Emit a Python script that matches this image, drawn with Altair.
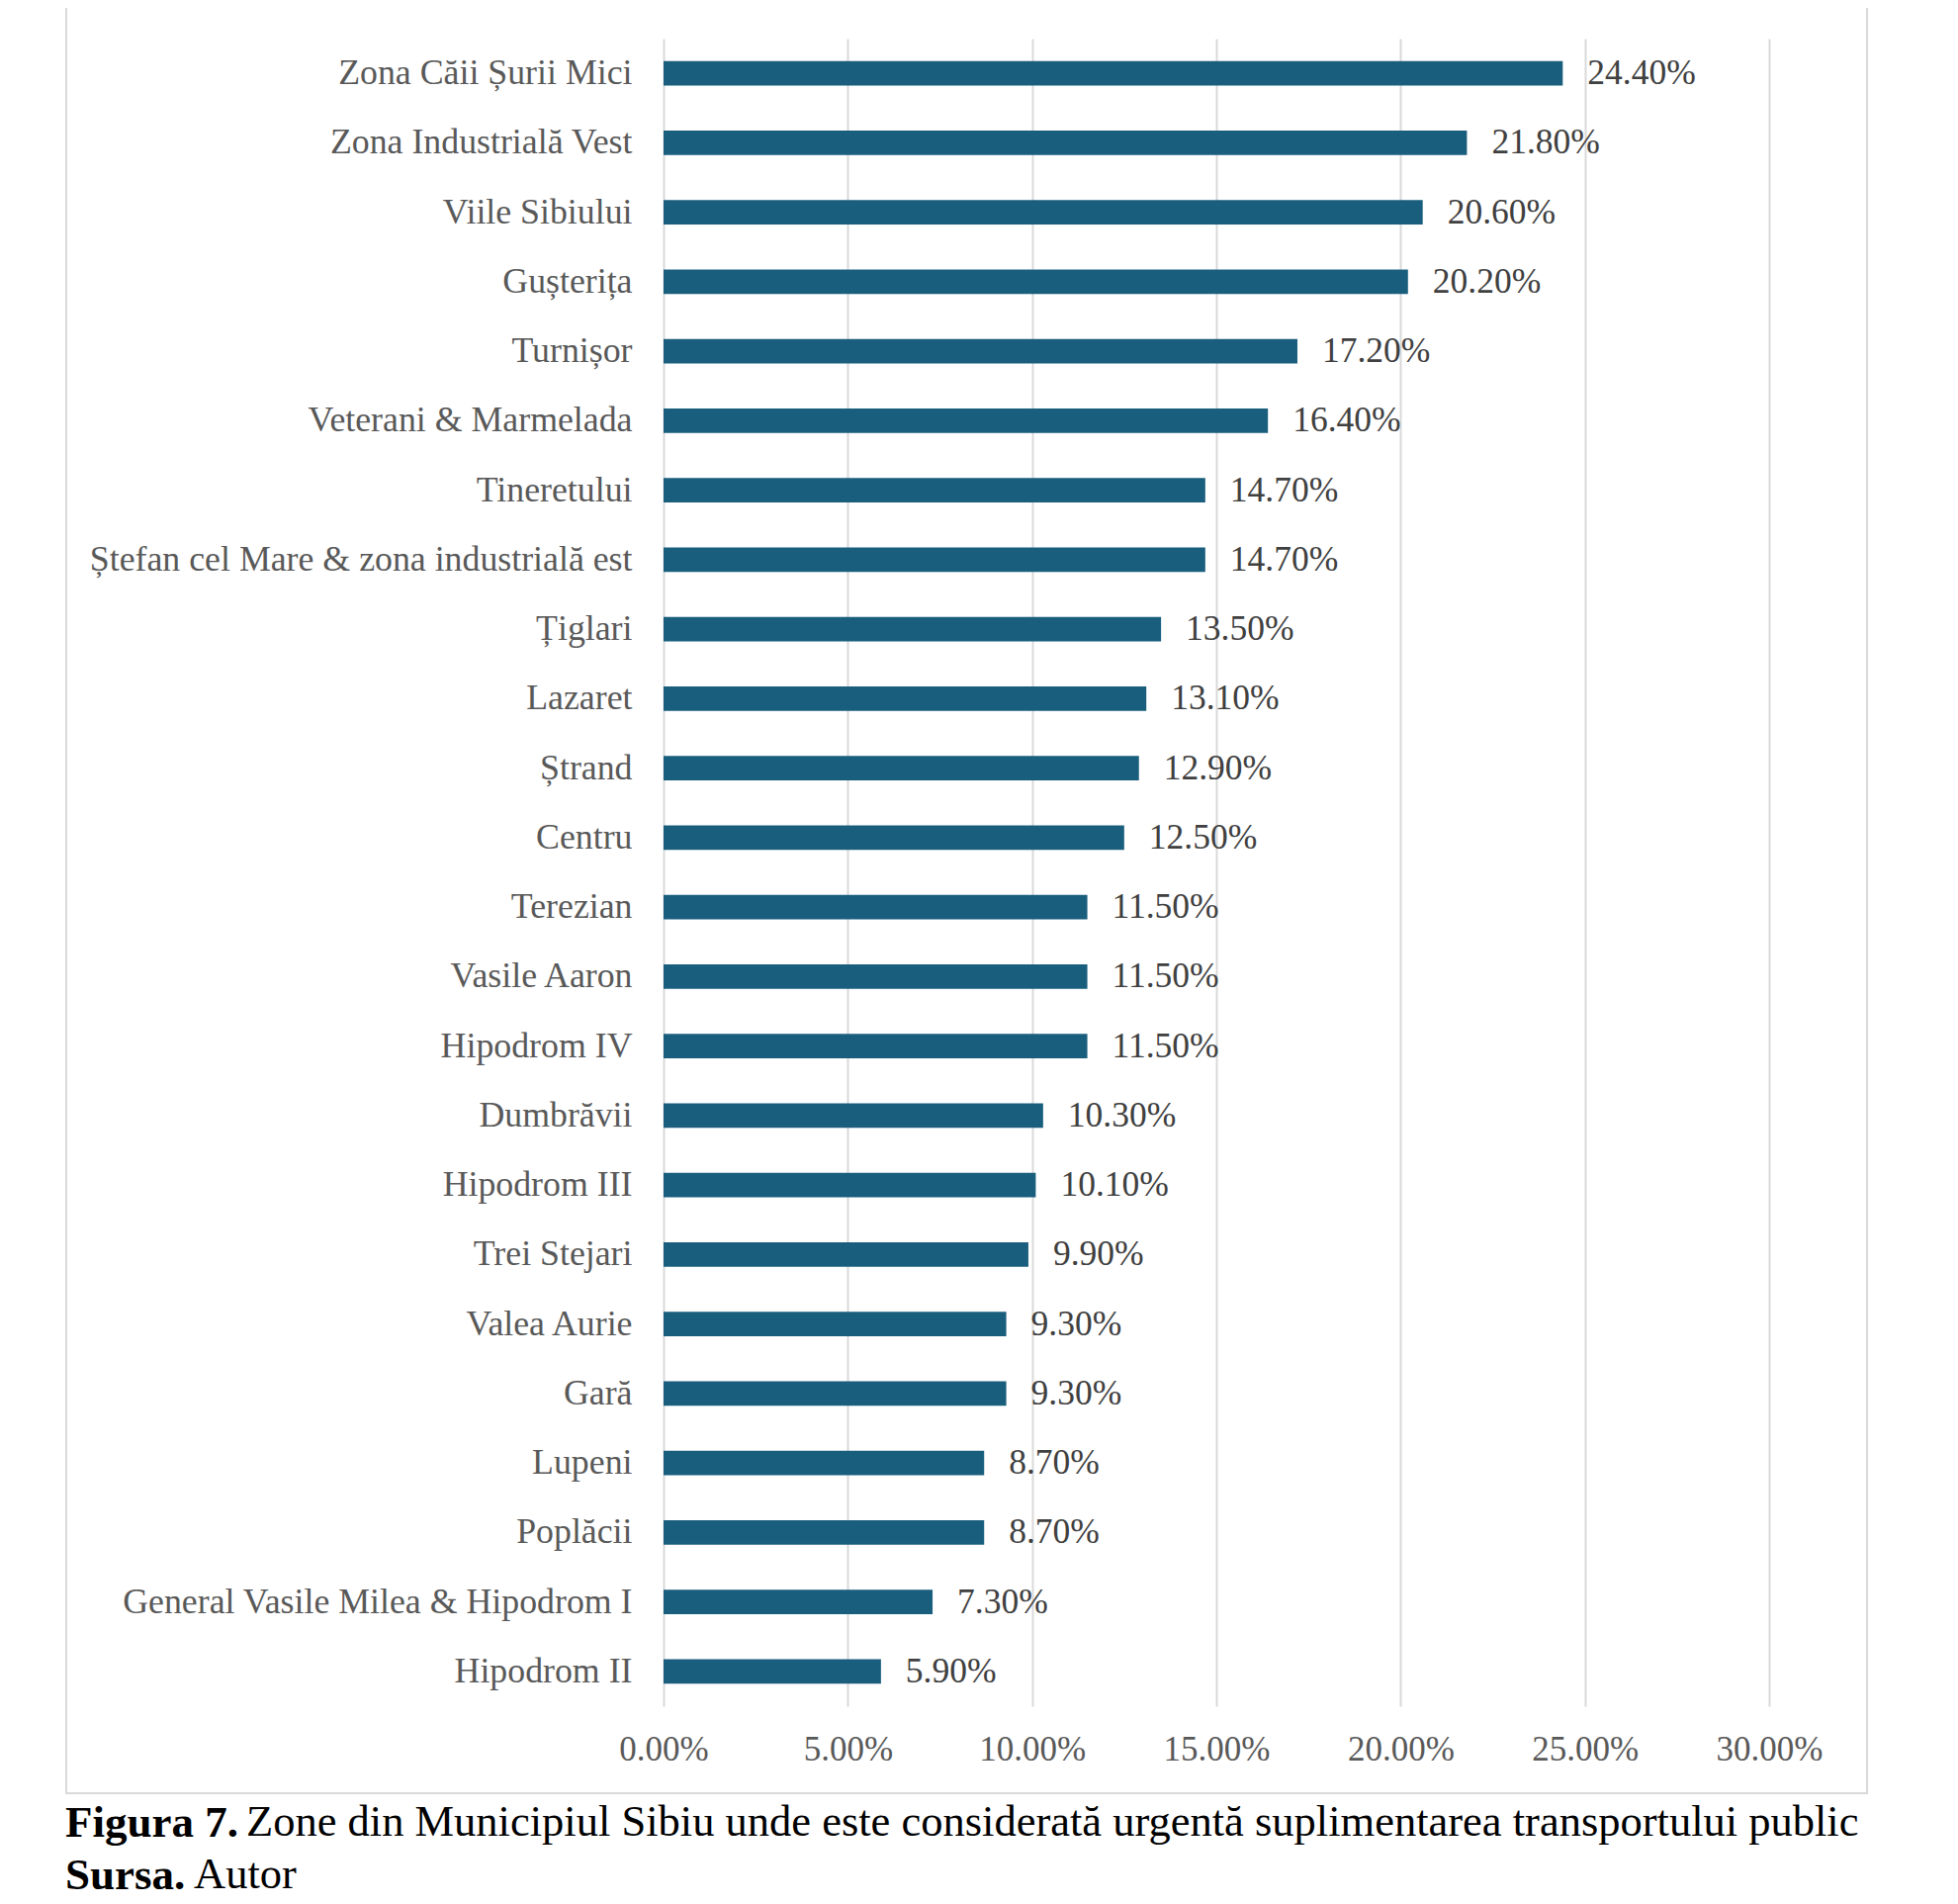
import altair as alt
import pandas as pd

zones = [
    "Zona Căii Șurii Mici",
    "Zona Industrială Vest",
    "Viile Sibiului",
    "Gușterița",
    "Turnișor",
    "Veterani & Marmelada",
    "Tineretului",
    "Ștefan cel Mare & zona industrială est",
    "Țiglari",
    "Lazaret",
    "Ștrand",
    "Centru",
    "Terezian",
    "Vasile Aaron",
    "Hipodrom IV",
    "Dumbrăvii",
    "Hipodrom III",
    "Trei Stejari",
    "Valea Aurie",
    "Gară",
    "Lupeni",
    "Poplăcii",
    "General Vasile Milea & Hipodrom I",
    "Hipodrom II",
]
values = [24.4, 21.8, 20.6, 20.2, 17.2, 16.4, 14.7, 14.7, 13.5, 13.1, 12.9, 12.5,
          11.5, 11.5, 11.5, 10.3, 10.1, 9.9, 9.3, 9.3, 8.7, 8.7, 7.3, 5.9]
x_ticks = [0.0, 0.05, 0.10, 0.15, 0.20, 0.25, 0.30]

caption_bold_1 = "Figura 7."
caption_text_1 = "Zone din Municipiul Sibiu unde este considerată urgentă suplimentarea transportului public"
caption_bold_2 = "Sursa."
caption_text_2 = "Autor"

df = pd.DataFrame({"zona": zones, "val": [v / 100 for v in values]})

FONT = "Liberation Serif"
W, H = 1118, 1686

base = alt.Chart(df)

y_enc = alt.Y(
    "zona:N",
    sort=zones,
    title=None,
    scale=alt.Scale(paddingInner=0.65, paddingOuter=0.325),
    axis=alt.Axis(
        labelFont=FONT,
        labelFontSize=35.8,
        labelColor="#595959",
        labelPadding=32,
        labelLimit=0,
        ticks=False,
        domain=False,
        grid=False,
    ),
)
x_enc = alt.X(
    "val:Q",
    title=None,
    scale=alt.Scale(domain=[0, 0.30], nice=False),
    axis=alt.Axis(
        values=x_ticks,
        format=".2%",
        labelFont=FONT,
        labelFontSize=35,
        labelColor="#595959",
        labelPadding=26,
        labelFlush=False,
        ticks=False,
        domain=False,
        grid=True,
        gridColor="#d9d9d9",
        gridWidth=2,
    ),
)

bars = base.mark_bar(color="#1a5e7e").encode(x=x_enc, y=y_enc)

labels = base.mark_text(
    align="left", baseline="middle", dx=25, font=FONT, fontSize=35.5, color="#404040"
).encode(
    x=alt.X("val:Q"),
    y=alt.Y("zona:N", sort=zones),
    text=alt.Text("val:Q", format=".2%"),
)

one = pd.DataFrame({"k": [0]})
frame = alt.Chart(one).mark_rect(
    fill=None, stroke="#d9d9d9", strokeWidth=2
).encode(
    x=alt.value(-604), x2=alt.value(1217), y=alt.value(-60), y2=alt.value(1774)
)

def cap(text, xpx, ypx, bold, size):
    return alt.Chart(pd.DataFrame({"t": [text]})).mark_text(
        align="left", baseline="middle", font=FONT, fontSize=size,
        fontWeight="bold" if bold else "normal", color="#000000",
    ).encode(x=alt.value(xpx), y=alt.value(ypx), text="t:N")

captions = (
    cap(caption_bold_1, -605, 1804, True, 45)
    + cap(caption_text_1, -422, 1804, False, 44.5)
    + cap(caption_bold_2, -605, 1857, True, 45)
    + cap(caption_text_2, -475, 1857, False, 44.5)
)

chart = alt.layer(frame, bars, labels, captions).properties(
    width=W,
    height=H,
    background="white",
    autosize=alt.AutoSizeParams(type="none"),
    padding={"left": 663, "top": 31, "right": 180, "bottom": 202},
).configure_view(stroke=None)

chart.save("out.html", embed_options={"renderer": "svg", "actions": False})
